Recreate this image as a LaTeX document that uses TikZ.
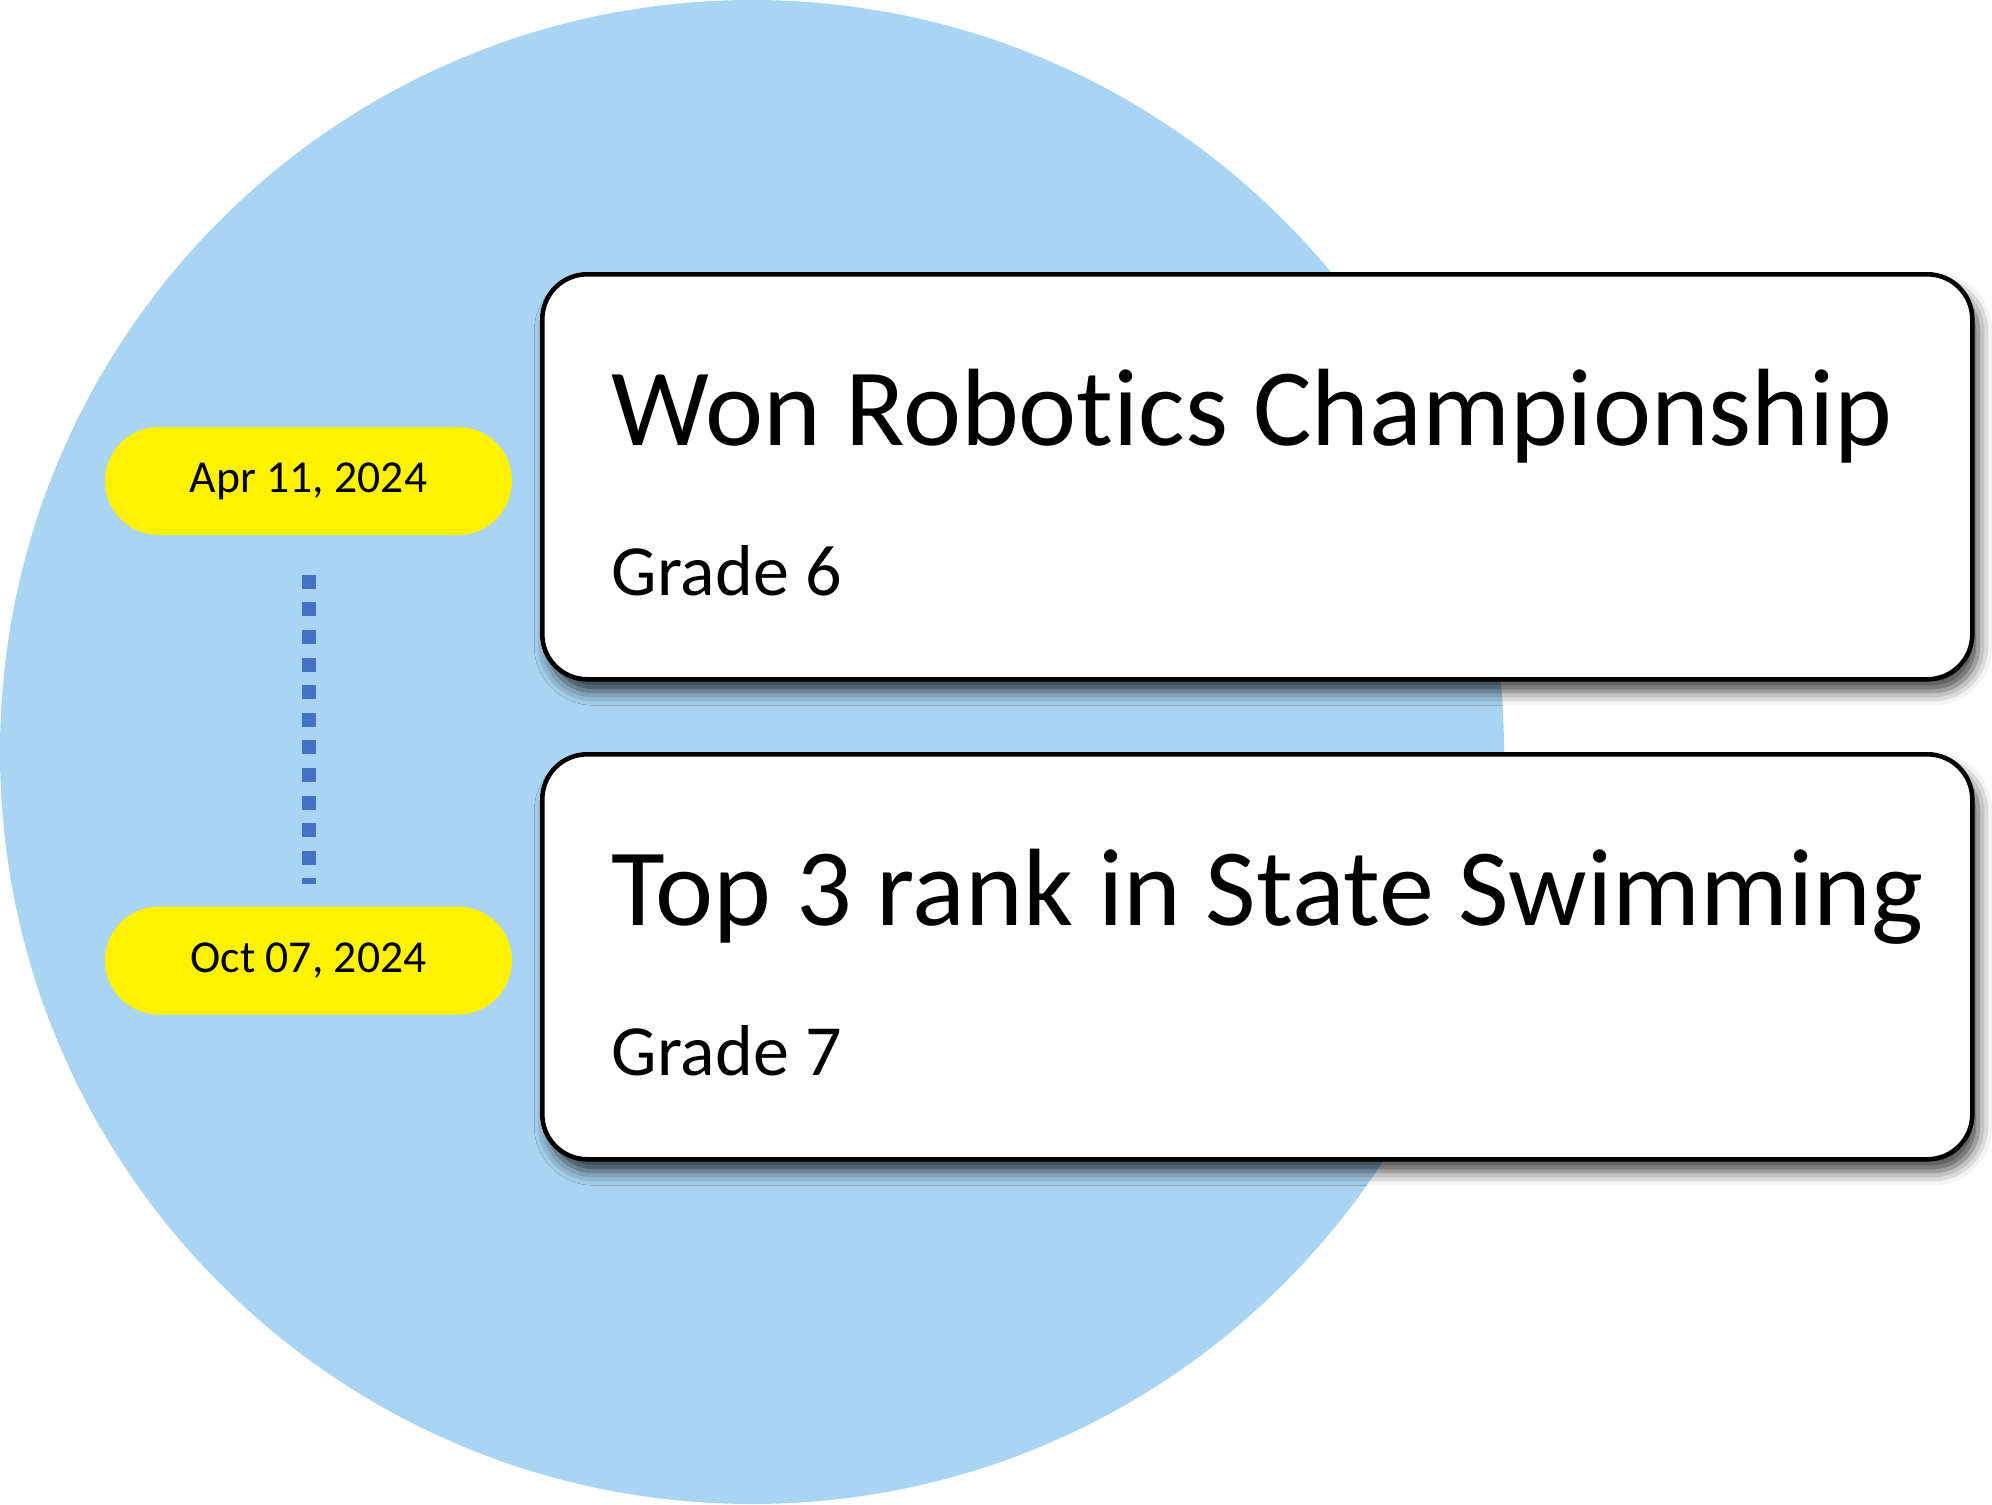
\documentclass[tikz,border=0pt]{standalone}
\usepackage{fontspec}
\setmainfont{Carlito}[Ligatures=NoCommon]
\usepackage{xcolor}
\usetikzlibrary{positioning,shadows.blur}
\definecolor{discblue}{HTML}{A9D5F2}
\definecolor{dotblue}{HTML}{4472C4}

\begin{document}
\begin{tikzpicture}[
  card/.style={draw=black, line width=1.3pt, fill=white, rounded corners=0.45cm,
    minimum width=14.30cm, minimum height=4.05cm, anchor=north west,
    blur shadow={shadow xshift=0.06cm, shadow yshift=-0.12cm,
      shadow blur radius=0.14cm, shadow opacity=75}},
  datepill/.style={fill=yellow, rounded corners=0.54cm, minimum width=4.07cm,
    minimum height=1.08cm, inner sep=0pt, font=\fontsize{13}{16}\selectfont},
  headline/.style={anchor=base west, inner sep=0pt, font=\fontsize{31.3}{38}\selectfont},
  gradeline/.style={anchor=base west, inner sep=0pt, font=\fontsize{20.5}{25}\selectfont},
  timeline/.style={draw=dotblue, line width=0.14cm, dash pattern=on 0.14cm off 0.136cm}
]
  \useasboundingbox (0,0) rectangle (19.92,-15.04);
  \fill[discblue] (7.52,-7.52) circle (7.52);

  % dates
  \node[datepill] (d1) at (3.085,-4.81) {\raisebox{-0.05cm}{Apr 11, 2024}};
  \node[datepill] (d2) at (3.085,-9.605) {\raisebox{-0.05cm}{Oct 07, 2024}};
  \draw[timeline] ([yshift=-0.39cm]d1.south) -- ([yshift=0.22cm]d2.north);

  % cards
  \node[card] (c1) at (5.40,-2.72) {};
  \node[headline] (h1) at ([xshift=0.71cm,yshift=-1.73cm]c1.north west) {Won Robotics Championship};
  \node[gradeline] (g1) at ([xshift=0.71cm,yshift=-3.23cm]c1.north west) {Grade 6};

  \node[card] (c2) at (5.40,-7.52) {};
  \node[headline] (h2) at ([xshift=0.71cm,yshift=-1.73cm]c2.north west) {Top 3 rank in State Swimming};
  \node[gradeline] (g2) at ([xshift=0.71cm,yshift=-3.23cm]c2.north west) {Grade 7};
\end{tikzpicture}
\end{document}
